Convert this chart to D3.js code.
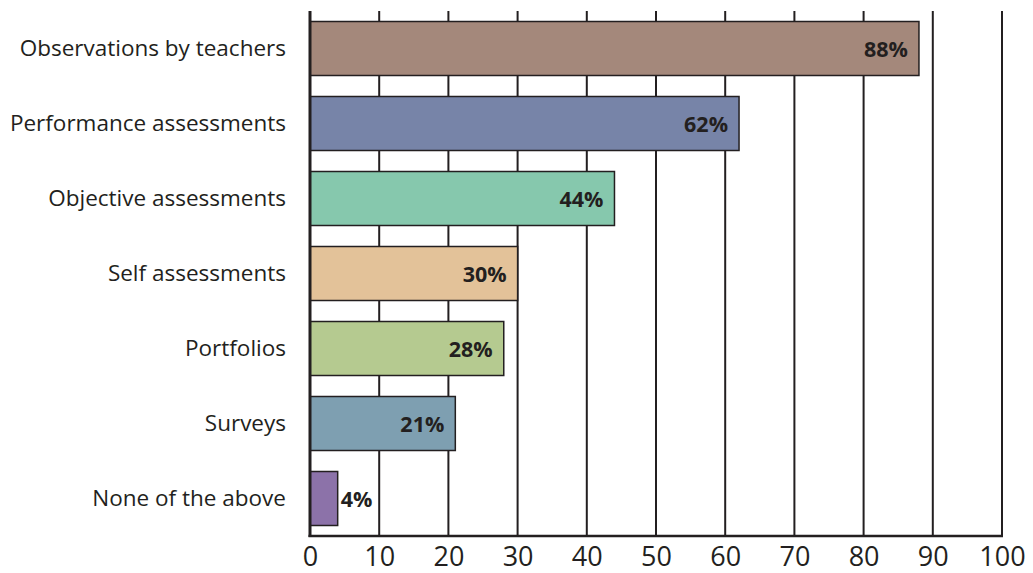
<!DOCTYPE html>
<html>
<head>
<meta charset="utf-8">
<script src="https://cdn.jsdelivr.net/npm/d3@7"></script>
<style>
  html, body { margin: 0; padding: 0; background: #fff; }
  svg { display: block; }
  text { fill: #231f20; }
</style>
</head>
<body>
<svg id="chart" width="1033" height="573"></svg>
<script>
// Assessment methods and share of respondents using each (%)
const categories = [
  "Observations by teachers",
  "Performance assessments",
  "Objective assessments",
  "Self assessments",
  "Portfolios",
  "Surveys",
  "None of the above"
];
const values = [88, 62, 44, 30, 28, 21, 4];
const barColors = ["#a4887b", "#7784a8", "#86c8ad", "#e3c299", "#b5ca90", "#7e9fb1", "#8c72a9"];
const tickValues = [0, 10, 20, 30, 40, 50, 60, 70, 80, 90, 100];

const ink = "#231f20";
const fontFamily = "'Open Sans', 'Noto Sans', sans-serif";

const svg = d3.select("#chart");
const plotLeft = 310, plotRight = 1002, plotTop = 11, plotBottom = 536;

const x = d3.scaleLinear().domain([0, 100]).range([plotLeft, plotRight]);
const y = d3.scaleBand()
  .domain(categories)
  .range([plotTop, plotBottom])
  .paddingInner(0.28)
  .paddingOuter(0.14);

// Vertical grid lines every 10 units
svg.append("g")
  .selectAll("line")
  .data(tickValues.filter(d => d > 0))
  .join("line")
  .attr("x1", d => x(d)).attr("x2", d => x(d))
  .attr("y1", plotTop).attr("y2", plotBottom)
  .attr("stroke", ink)
  .attr("stroke-width", 2);

// Bars
const rows = categories.map((c, i) => ({ cat: c, value: values[i], color: barColors[i] }));

svg.append("g")
  .selectAll("rect")
  .data(rows)
  .join("rect")
  .attr("x", x(0))
  .attr("y", d => y(d.cat))
  .attr("width", d => x(d.value) - x(0))
  .attr("height", y.bandwidth())
  .attr("fill", d => d.color)
  .attr("stroke", ink)
  .attr("stroke-width", 1.5);

// Value labels: inside the bar end, or just outside when the bar is short
svg.append("g")
  .selectAll("text")
  .data(rows)
  .join("text")
  .attr("x", d => d.value < 10 ? x(d.value) + 3 : x(d.value) - 11)
  .attr("y", d => y(d.cat) + y.bandwidth() / 2 + 1)
  .attr("dy", "0.35em")
  .attr("text-anchor", d => d.value < 10 ? "start" : "end")
  .style("font-family", fontFamily)
  .style("font-weight", "bold")
  .style("font-size", "21.5px")
  .text(d => d.value + "%");

// Category labels
svg.append("g")
  .selectAll("text")
  .data(rows)
  .join("text")
  .attr("x", 286)
  .attr("y", d => y(d.cat) + y.bandwidth() / 2)
  .attr("dy", "0.35em")
  .attr("text-anchor", "end")
  .style("font-family", fontFamily)
  .style("font-size", "22.5px")
  .text(d => d.cat);

// Bottom axis with tick labels, no tick marks
const xAxis = d3.axisBottom(x).tickValues(tickValues).tickSize(0).tickPadding(0);
const axisG = svg.append("g")
  .attr("transform", `translate(0,${plotBottom})`)
  .call(xAxis);
axisG.select(".domain").remove();
axisG.selectAll("text")
  .attr("y", 30)
  .attr("dy", 0)
  .style("font-family", fontFamily)
  .style("font-size", "27px")
  .style("fill", ink);

// Axis frame: baseline and the zero line
svg.append("line")
  .attr("x1", x(0) - 1.5).attr("x2", x(100) + 1)
  .attr("y1", plotBottom).attr("y2", plotBottom)
  .attr("stroke", ink).attr("stroke-width", 2.5);
svg.append("line")
  .attr("x1", x(0)).attr("x2", x(0))
  .attr("y1", plotTop).attr("y2", plotBottom + 1)
  .attr("stroke", ink).attr("stroke-width", 3);
</script>
</body>
</html>
